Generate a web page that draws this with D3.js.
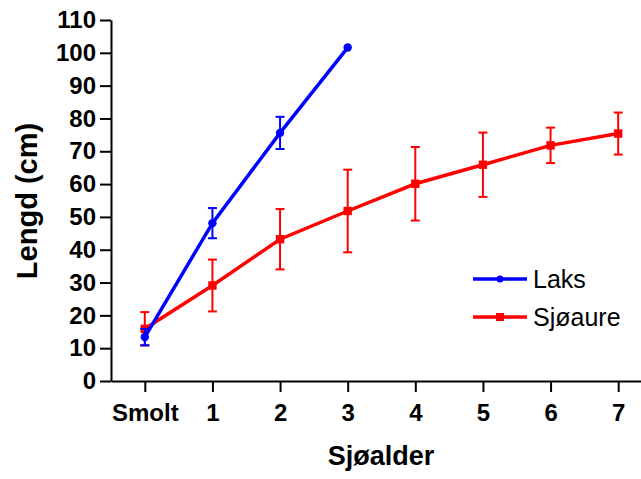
<!DOCTYPE html>
<html>
<head>
<meta charset="utf-8">
<script src="https://cdn.jsdelivr.net/npm/d3@7"></script>
<style>
  html, body { margin: 0; padding: 0; background: #fff; }
  svg { display: block; font-family: Arial, "Liberation Sans", sans-serif; }
</style>
</head>
<body>
<svg id="chart" width="641" height="479"></svg>
<script>
// ---- Data ----
const categories = ["Smolt", "1", "2", "3", "4", "5", "6", "7"];
const yTicks = [0, 10, 20, 30, 40, 50, 60, 70, 80, 90, 100, 110];
const laksMean = [13.4, 48.1, 75.6, 101.6];
const laksSd   = [2.5, 4.6, 4.9, 0];
const sjoMean  = [15.9, 29.1, 43.2, 51.8, 60.1, 65.9, 71.8, 75.4];
const sjoSd    = [5.1, 7.9, 9.2, 12.6, 11.2, 9.8, 5.4, 6.4];
const seriesNames = ["Laks", "Sjøaure"];

const svg = d3.select("#chart");
const x = d3.scaleLinear().domain([-0.5, 7.5]).range([111, 652]);
const y = d3.scaleLinear().domain([0, 110]).range([381, 20]);

// ---- Axes ----
const yAxis = svg.append("g")
  .attr("transform", "translate(111,0)")
  .call(d3.axisLeft(y).tickValues(yTicks).tickSize(11).tickSizeOuter(0).tickPadding(4));
yAxis.select(".domain").attr("stroke", "#000").attr("stroke-width", 2);
yAxis.selectAll(".tick line").attr("stroke", "#000").attr("stroke-width", 2);
yAxis.selectAll(".tick text")
  .attr("font-size", 24).attr("font-weight", "bold").attr("fill", "#000")
  .attr("font-family", "Arial, 'Liberation Sans', sans-serif");

const xAxis = svg.append("g")
  .attr("transform", "translate(0,381)")
  .call(d3.axisBottom(x).tickValues(d3.range(categories.length))
    .tickFormat(i => categories[i]).tickSize(11).tickSizeOuter(0).tickPadding(12));
xAxis.select(".domain").attr("stroke", "#000").attr("stroke-width", 2);
xAxis.selectAll(".tick line").attr("stroke", "#000").attr("stroke-width", 2);
xAxis.selectAll(".tick text")
  .attr("font-size", 24).attr("font-weight", "bold").attr("fill", "#000")
  .attr("font-family", "Arial, 'Liberation Sans', sans-serif");

// ---- Axis titles ----
svg.append("text")
  .attr("x", 381).attr("y", 465)
  .attr("text-anchor", "middle")
  .attr("font-size", 27).attr("font-weight", "bold")
  .text("Sjøalder");

svg.append("text")
  .attr("transform", "translate(37,201) rotate(-90)")
  .attr("text-anchor", "middle")
  .attr("font-size", 29).attr("font-weight", "bold")
  .text("Lengd (cm)");

// ---- Series drawing ----
function drawSeries(means, sds, color, marker) {
  const g = svg.append("g");
  const pts = means.map((m, i) => ({ i, m, sd: sds[i] }));
  // error bars
  pts.filter(d => d.sd > 0).forEach(d => {
    const cx = x(d.i);
    g.append("line").attr("x1", cx).attr("x2", cx)
      .attr("y1", y(d.m - d.sd)).attr("y2", y(d.m + d.sd))
      .attr("stroke", color).attr("stroke-width", 2);
    [d.m - d.sd, d.m + d.sd].forEach(v => {
      g.append("line").attr("x1", cx - 4.5).attr("x2", cx + 4.5)
        .attr("y1", y(v)).attr("y2", y(v))
        .attr("stroke", color).attr("stroke-width", 2);
    });
  });
  // line
  g.append("path")
    .datum(pts)
    .attr("d", d3.line().x(d => x(d.i)).y(d => y(d.m)))
    .attr("fill", "none").attr("stroke", color).attr("stroke-width", 3.5);
  // markers
  if (marker === "circle") {
    g.selectAll("circle").data(pts).join("circle")
      .attr("cx", d => x(d.i)).attr("cy", d => y(d.m)).attr("r", 4.2)
      .attr("fill", color);
  } else {
    g.selectAll("rect.mk").data(pts).join("rect").attr("class", "mk")
      .attr("x", d => x(d.i) - 4.2).attr("y", d => y(d.m) - 4.2)
      .attr("width", 8.4).attr("height", 8.4).attr("fill", color);
  }
}

drawSeries(sjoMean, sjoSd, "#ff0000", "square");
drawSeries(laksMean, laksSd, "#0000ff", "circle");

// ---- Legend ----
const legend = svg.append("g");
const legendItems = [
  { name: seriesNames[0], color: "#0000ff", marker: "circle", yPos: 279 },
  { name: seriesNames[1], color: "#ff0000", marker: "square", yPos: 317 }
];
legendItems.forEach(it => {
  legend.append("line").attr("x1", 473).attr("x2", 527)
    .attr("y1", it.yPos).attr("y2", it.yPos)
    .attr("stroke", it.color).attr("stroke-width", 3.5);
  if (it.marker === "circle") {
    legend.append("circle").attr("cx", 500).attr("cy", it.yPos).attr("r", 3.5).attr("fill", it.color);
  } else {
    legend.append("rect").attr("x", 496).attr("y", it.yPos - 4).attr("width", 8).attr("height", 8).attr("fill", it.color);
  }
  legend.append("text").attr("x", 533).attr("y", it.yPos + 9)
    .attr("font-size", 25).attr("fill", "#000").text(it.name);
});
</script>
</body>
</html>
